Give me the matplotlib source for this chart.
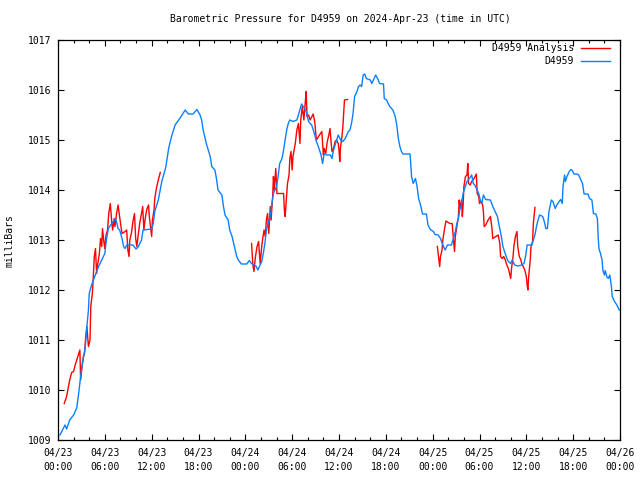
import numpy as np
import matplotlib
matplotlib.use("Agg")
import matplotlib.pyplot as plt
from matplotlib.ticker import MultipleLocator, FixedLocator

title = "Barometric Pressure for D4959 on 2024-Apr-23 (time in UTC)"
y_label = "milliBars"
series_names = ["D4959 Analysis", "D4959"]

# hours since 2024-04-23 00:00 UTC
blue_hours = [0.25, 0.9, 1.1, 1.5, 2.0, 2.4, 2.6, 2.8, 3.0, 3.5, 3.7, 3.9, 4.0, 4.3, 4.7, 5.2, 5.6, 6.0,
              6.2, 6.45, 6.9, 7.2, 7.4, 7.7, 7.9, 8.2, 8.4, 8.6, 8.8, 9.6, 10.0, 10.3, 10.7, 10.9, 12.0,
              12.2, 12.4, 12.85, 13.3, 13.8, 14.2, 14.6, 15.0, 15.6, 16.3, 16.7, 17.3, 17.8, 18.2, 18.4,
              18.6, 19.0, 19.5, 19.7, 20.1, 20.3, 20.5, 21.0, 21.2, 21.4, 21.8, 22.0, 22.3, 22.5, 22.7,
              22.9, 23.1, 23.5, 24.2, 24.5, 24.8, 25.1, 25.4, 25.6, 25.9, 26.1, 26.3, 26.5, 26.7, 26.9,
              27.2, 27.4, 27.6, 28.0, 28.2, 28.4, 28.7, 28.9, 29.1, 29.3, 29.5, 29.7, 30.1, 30.6, 30.8,
              31.2, 31.5, 31.8, 32.1, 32.5, 32.9, 33.1, 33.35, 33.7, 33.9, 34.1, 34.4, 34.9, 35.1, 35.3,
              35.5, 35.9, 36.2, 36.5, 36.8, 37.0, 37.2, 37.4, 37.6, 37.8, 38.0, 38.3, 38.5, 38.7, 38.9,
              39.1, 39.3, 39.5, 40.0, 40.2, 40.5, 40.7, 41.0, 41.2, 41.7, 41.8, 42.1, 42.3, 42.5, 42.9,
              43.2, 43.4, 43.6, 43.8, 44.0, 44.2, 45.1, 45.3, 45.5, 45.8, 46.0, 46.2, 46.4, 46.7, 47.2,
              47.4, 47.7, 48.1, 48.3, 48.7, 49.0, 49.3, 49.6, 49.9, 50.4, 50.6, 50.9, 51.1, 51.3, 51.5,
              51.7, 51.9, 52.1, 52.4, 52.7, 53.0, 53.2, 53.4, 53.9, 54.1, 54.3, 54.5, 54.8, 55.4, 55.7,
              56.0, 56.3, 56.5, 56.8, 57.0, 57.3, 57.5, 57.7, 58.0, 58.2, 58.5, 58.9, 59.4, 59.7, 59.9,
              60.1, 60.7, 60.9, 61.1, 61.3, 61.5, 61.7, 62.1, 62.3, 62.5, 62.7, 62.9, 63.2, 63.4, 63.7,
              63.9, 64.2, 64.4, 64.6, 64.7, 64.9, 65.0, 65.2, 65.5, 65.7, 65.9, 66.1, 66.5, 66.7, 67.0,
              67.2, 67.4, 67.9, 68.1, 68.4, 68.6, 68.9, 69.1, 69.2, 69.3, 69.5, 69.7, 69.8, 70.0, 70.1,
              70.3, 70.5, 70.7, 70.9, 71.0, 71.3, 71.6, 71.9]
blue_values = [1009.1, 1009.3, 1009.22, 1009.4, 1009.5, 1009.64, 1009.87, 1010.13, 1010.4, 1010.87, 1011.27,
               1011.6, 1011.93, 1012.1, 1012.27, 1012.47, 1012.6, 1012.73, 1013.0, 1013.23, 1013.33, 1013.4,
               1013.42, 1013.23, 1013.2, 1013.03, 1012.87, 1012.83, 1012.9, 1012.9, 1012.82, 1012.87, 1013.0,
               1013.2, 1013.22, 1013.33, 1013.57, 1013.8, 1014.17, 1014.45, 1014.85, 1015.1, 1015.3, 1015.43,
               1015.6, 1015.52, 1015.52, 1015.61, 1015.5, 1015.4, 1015.2, 1014.93, 1014.67, 1014.47, 1014.4,
               1014.23, 1014.0, 1013.9, 1013.67, 1013.5, 1013.4, 1013.2, 1013.07, 1012.93, 1012.8, 1012.67,
               1012.6, 1012.52, 1012.52, 1012.59, 1012.53, 1012.5, 1012.47, 1012.4, 1012.5, 1012.57, 1012.73,
               1012.93, 1013.2, 1013.33, 1013.47, 1013.73, 1013.93, 1014.07, 1014.27, 1014.53, 1014.63, 1014.8,
               1015.0, 1015.2, 1015.33, 1015.4, 1015.37, 1015.4, 1015.5, 1015.72, 1015.65, 1015.57, 1015.37,
               1015.3, 1015.1, 1014.97, 1014.87, 1014.7, 1014.53, 1014.73, 1014.7, 1014.7, 1014.63, 1014.8,
               1014.9, 1015.1, 1015.0, 1014.97, 1015.03, 1015.1, 1015.17, 1015.2, 1015.33, 1015.53, 1015.87,
               1015.97, 1016.07, 1016.1, 1016.07, 1016.3, 1016.32, 1016.23, 1016.2, 1016.13, 1016.23, 1016.3,
               1016.21, 1016.13, 1016.12, 1015.83, 1015.8, 1015.73, 1015.67, 1015.6, 1015.47, 1015.3, 1015.03,
               1014.87, 1014.77, 1014.72, 1014.72, 1014.27, 1014.13, 1014.23, 1014.07, 1013.83, 1013.73,
               1013.52, 1013.52, 1013.3, 1013.21, 1013.17, 1013.11, 1013.1, 1013.03, 1012.9, 1012.8, 1012.9,
               1012.9, 1013.0, 1013.17, 1013.33, 1013.43, 1013.63, 1013.73, 1013.93, 1014.03, 1014.17,
               1014.23, 1014.3, 1014.13, 1014.1, 1013.93, 1013.8, 1013.73, 1013.9, 1013.81, 1013.8, 1013.67,
               1013.57, 1013.47, 1013.3, 1013.07, 1012.87, 1012.73, 1012.63, 1012.57, 1012.53, 1012.6, 1012.5,
               1012.48, 1012.5, 1012.53, 1012.67, 1012.9, 1012.9, 1013.0, 1013.1, 1013.27, 1013.4, 1013.5,
               1013.47, 1013.37, 1013.23, 1013.23, 1013.57, 1013.8, 1013.77, 1013.63, 1013.7, 1013.77,
               1013.81, 1013.73, 1014.07, 1014.3, 1014.17, 1014.27, 1014.37, 1014.41, 1014.39, 1014.32,
               1014.32, 1014.3, 1014.2, 1014.13, 1013.92, 1013.92, 1013.83, 1013.8, 1013.53, 1013.52, 1013.43,
               1013.07, 1012.83, 1012.73, 1012.6, 1012.4, 1012.3, 1012.39, 1012.27, 1012.23, 1012.3, 1012.07,
               1011.87, 1011.77, 1011.7, 1011.6]

red_hours_1 = [0.8, 1.1, 1.3, 1.5, 1.75, 2.0, 2.2, 2.4, 2.6, 2.8, 2.9, 3.1, 3.25, 3.4, 3.55, 3.7, 3.9, 4.1,
               4.2, 4.4, 4.5, 4.65, 4.8, 4.95, 5.1, 5.3, 5.45, 5.6, 5.7, 5.9, 6.0, 6.15, 6.35, 6.5, 6.7, 6.9,
               7.0, 7.2, 7.3, 7.5, 7.7, 7.95, 8.2, 8.6, 8.8, 8.95, 9.1, 9.2, 9.4, 9.6, 9.8, 9.95, 10.1, 10.3,
               10.5, 10.7, 10.85, 11.0, 11.15, 11.35, 11.6, 11.7, 11.85, 12.0, 12.1, 12.3, 12.4, 12.6, 12.85, 13.1]
red_values_1 = [1009.73, 1009.87, 1010.03, 1010.2, 1010.35, 1010.37, 1010.5, 1010.6, 1010.7, 1010.8, 1010.2,
                1010.5, 1010.67, 1010.73, 1011.07, 1011.27, 1010.87, 1011.0, 1011.67, 1011.93, 1012.2, 1012.67,
                1012.83, 1012.33, 1012.53, 1012.73, 1013.03, 1012.87, 1013.23, 1012.93, 1012.83, 1013.1, 1013.2,
                1013.53, 1013.73, 1013.33, 1013.2, 1013.43, 1013.27, 1013.53, 1013.7, 1013.4, 1013.13, 1013.17,
                1013.2, 1012.8, 1012.67, 1013.0, 1013.13, 1013.37, 1013.53, 1013.03, 1012.87, 1013.13, 1013.37,
                1013.53, 1013.67, 1013.2, 1013.4, 1013.6, 1013.7, 1013.47, 1013.27, 1013.07, 1013.4, 1013.6,
                1013.83, 1014.03, 1014.2, 1014.35]

red_hours_2 = [24.8, 24.95, 25.1, 25.3, 25.5, 25.7, 25.9, 26.1, 26.2, 26.4, 26.55, 26.7, 26.85, 27.0, 27.2,
               27.3, 27.5, 27.6, 27.7, 27.9, 28.05, 28.9, 29.0, 29.1, 29.3, 29.4, 29.6, 29.7, 29.85, 30.0,
               30.1, 30.4, 30.6, 30.8, 31.0, 31.1, 31.3, 31.5, 31.7, 31.8, 31.9, 32.1, 32.3, 32.7, 32.9, 33.1,
               33.5, 33.8, 33.9, 34.0, 34.1, 34.3, 34.5, 34.7, 34.85, 35.0, 35.1, 35.3, 35.5, 35.7, 35.9, 36.0,
               36.1, 36.2, 36.35, 36.5, 36.6, 36.7, 37.1]
red_values_2 = [1012.93, 1012.53, 1012.37, 1012.67, 1012.87, 1012.97, 1012.53, 1012.87, 1013.0, 1013.2,
                1013.07, 1013.4, 1013.53, 1013.13, 1013.67, 1013.4, 1013.87, 1014.27, 1014.0, 1014.43, 1013.93,
                1013.93, 1013.6, 1013.47, 1013.93, 1014.13, 1014.3, 1014.63, 1014.77, 1014.4, 1014.67, 1014.93,
                1015.2, 1015.33, 1014.93, 1015.4, 1015.67, 1015.4, 1015.8, 1015.97, 1015.47, 1015.5, 1015.4,
                1015.52, 1015.35, 1015.0, 1015.1, 1015.17, 1014.93, 1014.7, 1014.83, 1014.73, 1014.97, 1015.1,
                1015.23, 1014.93, 1014.77, 1014.83, 1014.97, 1015.0, 1014.93, 1014.8, 1014.57, 1014.87, 1015.03,
                1015.27, 1015.53, 1015.8, 1015.81]

red_hours_3 = [48.6, 48.8, 48.9, 49.0, 49.2, 49.3, 49.5, 49.7, 50.2, 50.5, 50.6, 50.8, 50.9, 51.1, 51.3, 51.4,
               51.5, 51.7, 51.8, 51.9, 52.0, 52.2, 52.4, 52.5, 52.6, 52.8, 53.0, 53.3, 53.6, 53.7, 53.9, 54.0,
               54.2, 54.4, 54.5, 54.6, 54.8, 55.1, 55.4, 55.6, 55.7, 55.9, 56.4, 56.6, 56.7, 56.9, 57.1, 57.3,
               57.5, 57.7, 58.0, 58.1, 58.3, 58.4, 58.6, 58.8, 58.9, 59.1, 59.3, 59.4, 59.6, 59.8, 60.0, 60.1,
               60.2, 60.3, 60.5, 60.6, 60.8, 60.9, 61.1]
red_values_3 = [1012.87, 1012.6, 1012.47, 1012.67, 1012.8, 1013.0, 1013.2, 1013.38, 1013.33, 1013.33, 1013.13,
                1012.77, 1013.07, 1013.27, 1013.47, 1013.8, 1013.63, 1013.8, 1013.47, 1013.7, 1014.07, 1014.27,
                1014.3, 1014.53, 1014.13, 1014.1, 1014.17, 1014.23, 1014.32, 1013.93, 1013.87, 1013.73, 1013.77,
                1013.7, 1013.57, 1013.27, 1013.3, 1013.4, 1013.47, 1013.23, 1013.03, 1013.05, 1013.1, 1012.93,
                1012.67, 1012.63, 1012.67, 1012.6, 1012.5, 1012.43, 1012.23, 1012.43, 1012.67, 1012.87, 1013.07,
                1013.17, 1012.87, 1012.67, 1012.6, 1012.53, 1012.47, 1012.4, 1012.27, 1012.1, 1012.0, 1012.27,
                1012.6, 1012.87, 1012.97, 1013.33, 1013.65]

x_tick_hours = [0, 6, 12, 18, 24, 30, 36, 42, 48, 54, 60, 66, 72]
x_tick_labels = ["04/23\n00:00", "04/23\n06:00", "04/23\n12:00", "04/23\n18:00",
                 "04/24\n00:00", "04/24\n06:00", "04/24\n12:00", "04/24\n18:00",
                 "04/25\n00:00", "04/25\n06:00", "04/25\n12:00", "04/25\n18:00",
                 "04/26\n00:00"]
y_ticks = [1009, 1010, 1011, 1012, 1013, 1014, 1015, 1016, 1017]

RED = "#ff0000"
BLUE = "#0a80ff"
FONT = "DejaVu Sans Mono"
FS = 7

plt.rcParams["font.family"] = FONT
fig = plt.figure(figsize=(6.4, 4.8), dpi=100)
ax = fig.add_axes([58 / 640, 40 / 480, 562 / 640, 400 / 480])

red_h = red_hours_1 + [np.nan] + red_hours_2 + [np.nan] + red_hours_3
red_v = red_values_1 + [np.nan] + red_values_2 + [np.nan] + red_values_3

ax.plot(red_h, red_v, color=RED, lw=1.0, label=series_names[0])
ax.plot(blue_hours, blue_values, color=BLUE, lw=1.0, label=series_names[1])

ax.set_xlim(0, 72)
ax.set_ylim(1009, 1017)
ax.set_xticks(x_tick_hours)
ax.set_xticklabels(x_tick_labels, fontsize=FS, linespacing=1.5)
ax.xaxis.set_minor_locator(MultipleLocator(2))
ax.set_yticks(y_ticks)
ax.set_yticklabels([str(v) for v in y_ticks], fontsize=FS)

ax.tick_params(axis="both", which="major", direction="in", length=4.5, width=0.8,
               top=True, right=True, color="black")
ax.tick_params(axis="both", which="minor", direction="in", length=2.2, width=0.8,
               top=True, right=True)
ax.tick_params(axis="x", which="major", pad=6)
ax.tick_params(axis="y", which="major", pad=5)
for s in ax.spines.values():
    s.set_linewidth(0.9)
    s.set_color("black")

fig.text(10 / 640, 1 - 241 / 480, y_label, rotation=90, ha="center", va="center", fontsize=FS)
fig.text(340 / 640, 1 - 19 / 480, title, ha="center", va="center", fontsize=FS)

leg = ax.legend(loc="upper right", bbox_to_anchor=(610 / 640, 1 - 43 / 480),
                bbox_transform=fig.transFigure, frameon=False, markerfirst=False,
                fontsize=FS, handlelength=3.0, handletextpad=0.7, labelspacing=0.35,
                borderpad=0, borderaxespad=0)

fig.savefig("out.png", dpi=100)
